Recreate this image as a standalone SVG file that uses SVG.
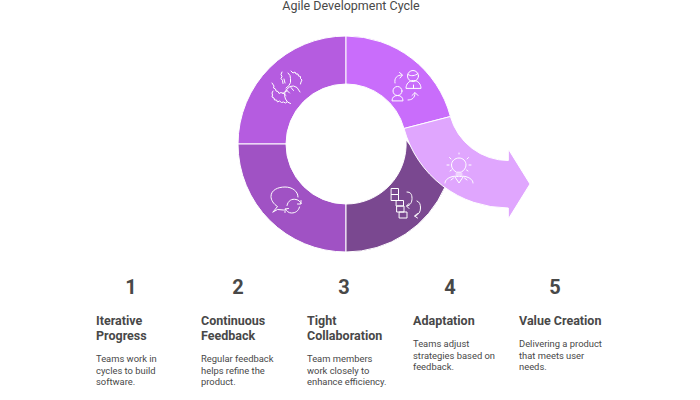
<svg xmlns="http://www.w3.org/2000/svg" width="700" height="400" viewBox="0 0 700 400">
<style>
text{font-family:Roboto,"Liberation Sans",sans-serif;fill:#484848}
.t{font-size:12.500px;text-anchor:middle}
.n{font-size:20px;font-weight:700;text-anchor:middle}
.h{font-size:12.500px;font-weight:700}
.b{font-size:9.400px}
.s{stroke:#fff;stroke-width:1}
.i{fill:none;stroke:#fff;stroke-width:1;stroke-linecap:round;stroke-linejoin:round}
</style>
<rect width="700" height="400" fill="#fff"/>
<text class="t" x="351" y="10">Agile Development Cycle</text>
<g id="connectors"/>
<g id="node-top-left">
<path class="s" fill="#B55CE0" d="M346 36A108 108 0 0 0 238 144H286A60 60 0 0 1 346 84Z"/>
<g class="i"><path d="M272 83l2 3 -.5 2 2 1 .5 2 2 .5 1 2 2 -1 2 1 2 -2 2 -.5M282 72l-1 2.500 1 2 -1 2 1.500 2 .5 3M284 79l1 4M288 73l2 2.500 .5 3 0 4 -1.500 3 -3 2.500"/><path d="M291 71l2 2 2 -1 1 2 2 0 .5 2 2 .5 0 2 1.500 1.500 -1 2 -.5 2"/><path d="M273 91l-1 2 .5 2 -.5 2 2 1 .5 2 2 0 1 2 2 -1 2 1.500 2 -.5 2 1 1.500 -1"/><path d="M300 92l-3 -4.500 -3.500 -1.500 -3.500 .5 -3 2.500 -2 3 -.5 3.500 1 3.500 2 3 3 1.500M283 93l3 2.500M286.500 90l3 3M291 87.500l2.500 3"/></g>
</g>
<g id="node-bottom-left">
<path class="s" fill="#A052C4" d="M238 144A108 108 0 0 0 346 252V204A60 60 0 0 1 286 144Z"/>
<g class="i"><path d="M273 212l4.500 -5.500C273.500 204 271 200 271 196.500 271 190 278 187 285 187 292 187 298 191 298 197"/><path d="M273 212l4.500 -2.500 6 .5"/><path d="M287 205.500c1 -5 5 -7 9 -6 3 .5 4 2 5 4M301 200.500l0 3.500 -3.500 0M299.500 207c-1 4 -4 6 -8 6 -3 0 -5 -2 -6 -4M285 212.500l0 -3.500 3.500 -.5"/></g>
</g>
<g id="node-bottom-right">
<path class="s" fill="#7A4890" d="M346 252A108 108 0 0 0 445 187L406 140A60 60 0 0 1 346 204Z"/>
<g class="i"><path d="M391.500 188.500h7v6h-7zM391.500 194.500h7v6h-7zM396.500 200.500h7v5.500h-7zM397 206h7v6h-7zM399.500 212h7.500v6h-7.500z"/><path d="M407 192c3.500 0 5 2 5 6.500 0 3.500 -1.500 7 -5 7.500M409 203.500l-2.500 2.500 2.500 2.500"/><path d="M417 201c2.500 1 3.500 3 3.500 7 0 4 -2 7 -5.500 8M417.500 213.500l-3 2.500 3 2"/></g>
</g>
<g id="node-top-right">
<path class="s" fill="#C96DFB" d="M346 36A108 108 0 0 1 450.400 116.500L404 128.500A60 60 0 0 0 346 84Z"/>
<g class="i"><circle cx="413" cy="76" r="5.500"/><path d="M408 74.500c3 2 7 1.500 10 -1"/><path d="M406 88c0 -4 3 -7.500 7.500 -7.500 4.500 0 7.500 3.500 7.500 7.500zM413.500 85v3"/><circle cx="397.500" cy="91" r="4.500"/><path d="M392 100.500c0 -3 2 -5 5.500 -5 3.500 0 5.500 2 5.500 5z"/><path d="M395 83c-1 -5 2 -8 7 -8M399.500 72.500l3 2.500 -2.500 3"/><path d="M408 100c4 0 7 -2 7 -7M412 95.500l3 -3 3 3"/></g>
</g>
<g id="node-arrow">
<path class="s" fill="#E0A6FE" d="M404 128.500L450.400 116.500A60 60 0 0 0 508.300 160.500V149L530 184 508.300 219V208A108 108 0 0 1 404 128.500Z"/>
<g class="i"><path d="M456 172c-2.500 -1.500 -4.500 -4 -4.500 -7 0 -4 3.500 -7 7.500 -7 4 0 7 3 7 7 0 3 -2 5.500 -4.500 7zM456 174h6M456.500 176h5"/><path d="M459 154v-1M449.500 157.500l1.500 1.500M468.500 157.500l-1.500 1.500M447 165h2M469 165h2M450 171l1.500 -1M468 171l-1.500 -1"/><path d="M445 183c0 -3 3 -5 6 -6 3 -1 5 -1 7 -.5M473 183c0 -3 -3 -5 -6 -6 -3 -1 -5 -1 -7 -.5M455 177l4 6 4 -6M451 180l2.500 -2M467 180l-2.500 -2"/></g>
</g>
<g id="step-1"><text class="n" x="131" y="294">1</text><text class="h" x="96" y="325">Iterative</text><text class="h" x="96" y="340">Progress</text><text class="b" x="96" y="362">Teams work in</text><text class="b" x="96" y="373.500">cycles to build</text><text class="b" x="96" y="385">software.</text></g>
<g id="step-2"><text class="n" x="238" y="294">2</text><text class="h" x="201" y="325">Continuous</text><text class="h" x="201" y="340">Feedback</text><text class="b" x="201" y="362">Regular feedback</text><text class="b" x="201" y="373.500">helps refine the</text><text class="b" x="201" y="385">product.</text></g>
<g id="step-3"><text class="n" x="344" y="294">3</text><text class="h" x="307" y="325">Tight</text><text class="h" x="307" y="340">Collaboration</text><text class="b" x="307" y="362">Team members</text><text class="b" x="307" y="373.500">work closely to</text><text class="b" x="307" y="385">enhance efficiency.</text></g>
<g id="step-4"><text class="n" x="450" y="294">4</text><text class="h" x="413" y="325">Adaptation</text><text class="b" x="413" y="347">Teams adjust</text><text class="b" x="413" y="358.500">strategies based on</text><text class="b" x="413" y="370">feedback.</text></g>
<g id="step-5"><text class="n" x="555" y="294">5</text><text class="h" x="519" y="325">Value Creation</text><text class="b" x="519" y="347">Delivering a product</text><text class="b" x="519" y="358.500">that meets user</text><text class="b" x="519" y="370">needs.</text></g>
</svg>
